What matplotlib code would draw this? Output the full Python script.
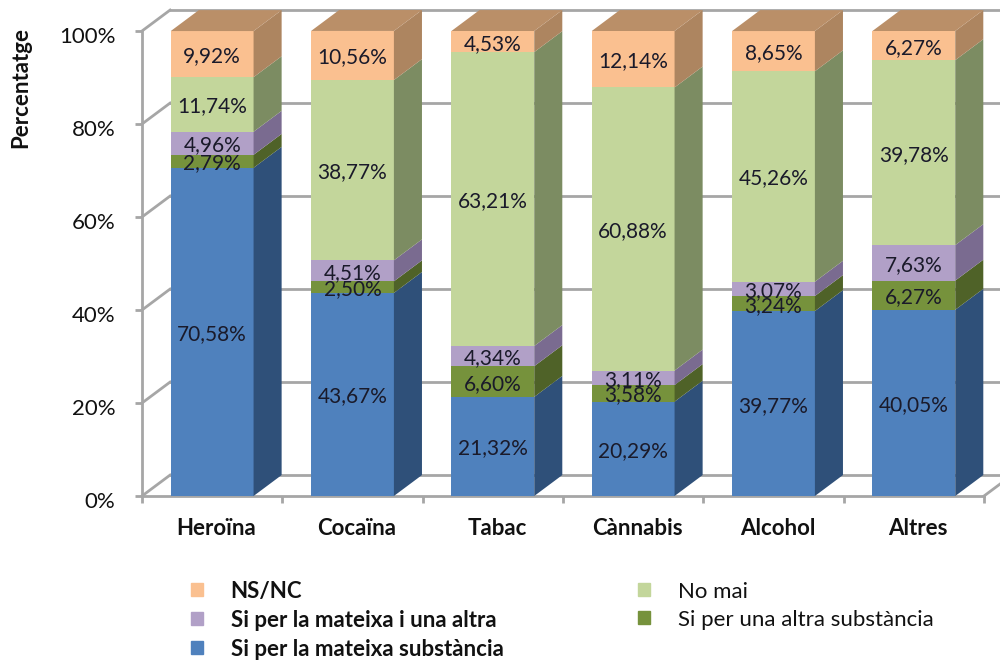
import numpy as np
import matplotlib
matplotlib.use("Agg")
import matplotlib.pyplot as plt
from matplotlib.patches import Polygon, Patch
from matplotlib.transforms import ScaledTranslation

categories = ["Heroïna", "Cocaïna", "Tabac", "Cànnabis", "Alcohol", "Altres"]
mateixa = [70.58, 43.67, 21.32, 20.29, 39.77, 40.05]
altra = [2.79, 2.50, 6.60, 3.58, 3.24, 6.27]
ambdues = [4.96, 4.51, 4.34, 3.11, 3.07, 7.63]
no_mai = [11.74, 38.77, 63.21, 60.88, 45.26, 39.78]
nsnc = [9.92, 10.56, 4.53, 12.14, 8.65, 6.27]

series = [mateixa, altra, ambdues, no_mai, nsnc]
front_colors = ["#4F81BD", "#76923C", "#B1A0C7", "#C3D69B", "#FAC090"]
side_colors = ["#2F5079", "#4F6228", "#7A6B90", "#7C8C62", "#AD8560"]
top_color = "#BA8F68"
grid_color = "#A6A6A6"

plt.rcParams["font.family"] = ["Lato", "DejaVu Sans"]

fig = plt.figure(figsize=(10, 6.6), dpi=100)
ax = fig.add_axes([0.142, (660 - 496) / 660, 0.842, 465 / 660])
ax.set_xlim(0, 6)
ax.set_ylim(0, 100)

# fake 3d depth, in data units
dx = 0.2
dy = 4.5
bar_w = 0.59

# back wall and side lines
for tick in [0, 20, 40, 60, 80, 100]:
    ax.plot([0, dx], [tick, tick + dy], color=grid_color, lw=2, clip_on=False, zorder=1)
    ax.plot([dx, 6 + dx], [tick + dy, tick + dy], color=grid_color, lw=2, clip_on=False, zorder=1)
ax.plot([6, 6 + dx], [0, dy], color=grid_color, lw=2, clip_on=False, zorder=1)

for i in range(len(categories)):
    left = i + 0.5 - bar_w / 2
    right = left + bar_w
    bottom = 0
    for values, front, side in zip(series, front_colors, side_colors):
        val = values[i]
        top = bottom + val
        ax.add_patch(Polygon([(left, bottom), (right, bottom), (right, top), (left, top)],
                             facecolor=front, edgecolor="none", clip_on=False, zorder=3))
        ax.add_patch(Polygon([(right, bottom), (right + dx, bottom + dy), (right + dx, top + dy), (right, top)],
                             facecolor=side, edgecolor="none", clip_on=False, zorder=3))
        # labels sit a little under the segment centre
        ax.annotate(f"{val:.2f}%".replace(".", ","), (i + 0.5, bottom + val / 2), xytext=(0, -1.5),
                    textcoords="offset points", ha="center", va="center",
                    fontsize=15, color="#1A1A2A", zorder=5)
        bottom = top
    ax.add_patch(Polygon([(left, bottom), (right, bottom), (right + dx, bottom + dy), (left + dx, bottom + dy)],
                         facecolor=top_color, edgecolor="none", clip_on=False, zorder=3))

for name in ["top", "right"]:
    ax.spines[name].set_visible(False)
for name in ["left", "bottom"]:
    ax.spines[name].set_color(grid_color)
    ax.spines[name].set_linewidth(2)
    ax.spines[name].set_zorder(2)

ax.set_yticks([0, 20, 40, 60, 80, 100])
ax.set_yticklabels(["0%", "20%", "40%", "60%", "80%", "100%"], fontsize=16, color="#111111")
ax.tick_params(axis="y", length=5, width=2, color=grid_color, pad=14)
shift = ScaledTranslation(0, -3 / 72, fig.dpi_scale_trans)
for lab in ax.get_yticklabels():
    lab.set_transform(lab.get_transform() + shift)

ax.set_xticks(np.arange(6) + 0.5)
ax.set_xticklabels(categories, fontsize=16, fontweight="bold", color="#111111")
ax.tick_params(axis="x", which="major", length=0, pad=16)
ax.set_xticks(np.arange(7), minor=True)
ax.tick_params(axis="x", which="minor", length=5, width=2, color=grid_color)
shift_x = ScaledTranslation(3 / 72, 0, fig.dpi_scale_trans)
for lab in ax.get_xticklabels():
    lab.set_transform(lab.get_transform() + shift_x)

fig.text(0.021, 1 - 88 / 660, "Percentatge", rotation=90, ha="center", va="center",
         fontsize=16, fontweight="bold", color="#111111")

handles = [Patch(color=front_colors[4]), Patch(color=front_colors[2]), Patch(color=front_colors[0]),
           Patch(color=front_colors[3]), Patch(color=front_colors[1])]
labels = ["NS/NC", "Si per la mateixa i una altra", "Si per la mateixa substància",
          "No mai", "Si per una altra substància"]
leg = fig.legend(handles, labels, ncols=2, frameon=False, fontsize=16,
                 loc="upper left", bbox_to_anchor=(0.175, 1 - 565 / 660),
                 handlelength=0.55, handleheight=0.55, handletextpad=1.25,
                 labelspacing=0.36, columnspacing=6.05, borderpad=0.2)
for t, weight in zip(leg.get_texts(), ["bold", "bold", "bold", "normal", "normal"]):
    t.set_fontweight(weight)
    t.set_color("#111111")

fig.savefig("out.png", dpi=100, facecolor="white")
